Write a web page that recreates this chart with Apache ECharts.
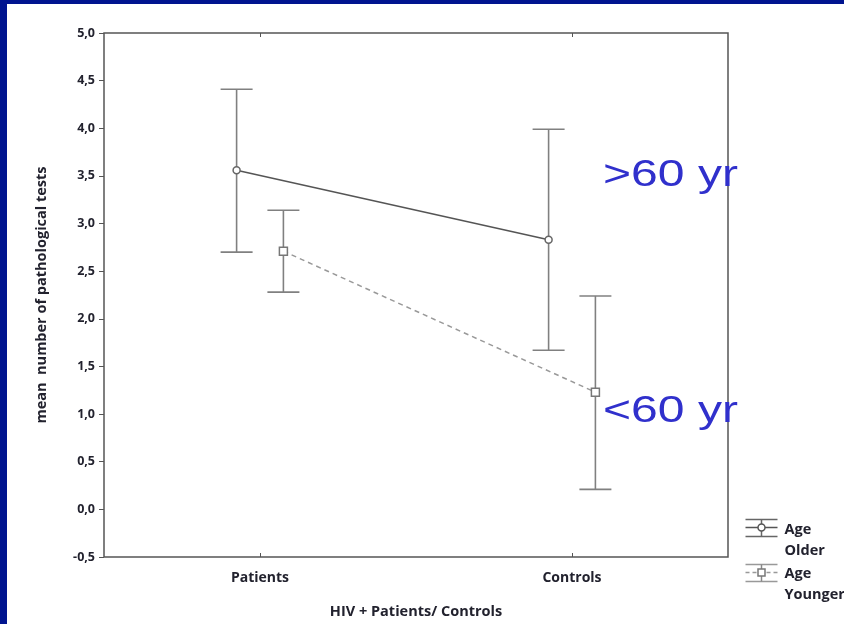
<!DOCTYPE html>
<html>
<head>
<meta charset="utf-8">
<script src="https://cdn.jsdelivr.net/npm/echarts@6/dist/echarts.min.js"></script>
<style>
  html, body { margin: 0; padding: 0; background: #fff; }
  #chart { width: 844px; height: 624px; }
</style>
</head>
<body>
<div id="chart"></div>
<script>
// groups on the x axis
const categories = ['Patients', 'Controls']
// mean and error bar ends, one entry per category
const olderMean = [3.56, 2.83]
const olderLow = [2.70, 1.67]
const olderHigh = [4.41, 3.99]
const youngerMean = [2.71, 1.23]
const youngerLow = [2.28, 0.21]
const youngerHigh = [3.14, 2.24]
const yTicks = { min: -0.5, max: 5, step: 0.5 }

// dodge the two groups around each category centre (value axis 0..2)
const dodge = 0.075
const catX = i => i + 0.5

function pts (mean, shift) {
  return mean.map((v, i) => [catX(i) + shift, v])
}
function bars (low, high, shift) {
  return low.map((v, i) => [catX(i) + shift, v, high[i]])
}

function errorBar (params, api) {
  const x = api.value(0)
  const lo = api.coord([x, api.value(1)])
  const hi = api.coord([x, api.value(2)])
  const w = 16
  const st = { stroke: '#808080', lineWidth: 1.6 }
  return {
    type: 'group',
    children: [
      { type: 'line', shape: { x1: lo[0], y1: lo[1], x2: hi[0], y2: hi[1] }, style: st },
      { type: 'line', shape: { x1: lo[0] - w, y1: lo[1], x2: lo[0] + w, y2: lo[1] }, style: st },
      { type: 'line', shape: { x1: hi[0] - w, y1: hi[1], x2: hi[0] + w, y2: hi[1] }, style: st }
    ]
  }
}

const lblFont = { fontFamily: 'Open Sans', fontWeight: 'bold', color: '#22222e' }
const blue = '#00148f'
const tickStyle = { show: true, inside: true, alignWithLabel: true, length: 4, lineStyle: { color: '#555' } }

const chart = echarts.init(document.getElementById('chart'))
chart.setOption({
  backgroundColor: '#fff',
  animation: false,
  grid: {
    left: 104, right: 116, top: 33, bottom: 64,
    show: true, borderColor: '#555', borderWidth: 1.5
  },
  xAxis: [
    {
      type: 'category',
      data: categories,
      position: 'bottom',
      axisLine: { show: false, onZero: false },
      axisTick: tickStyle,
      axisLabel: { ...lblFont, fontSize: 14, margin: 14 },
      name: 'HIV + Patients/ Controls',
      nameLocation: 'middle',
      nameGap: 47,
      nameTextStyle: { ...lblFont, fontSize: 14.5 }
    },
    {
      type: 'category',
      data: categories,
      position: 'top',
      axisLine: { show: false, onZero: false },
      axisTick: tickStyle,
      axisLabel: { show: false }
    },
    { type: 'value', min: 0, max: 2, show: false }
  ],
  yAxis: {
    type: 'value',
    min: yTicks.min,
    max: yTicks.max,
    interval: yTicks.step,
    axisLine: { show: false },
    splitLine: { show: false },
    axisTick: { show: true, length: 5, lineStyle: { color: '#555' } },
    axisLabel: {
      ...lblFont, fontSize: 12.5, margin: 9,
      formatter: v => v.toFixed(1).replace('.', ',')
    },
    name: 'mean  number of pathological tests',
    nameLocation: 'middle',
    nameGap: 55,
    nameTextStyle: { ...lblFont, fontSize: 14.5 }
  },
  series: [
    {
      type: 'custom', xAxisIndex: 2, renderItem: errorBar, z: 2,
      data: bars(olderLow, olderHigh, -dodge)
    },
    {
      type: 'custom', xAxisIndex: 2, renderItem: errorBar, z: 2,
      data: bars(youngerLow, youngerHigh, dodge)
    },
    {
      name: 'Age Older', type: 'line', xAxisIndex: 2, z: 3,
      data: pts(olderMean, -dodge),
      symbol: 'circle', symbolSize: 7,
      lineStyle: { color: '#555', width: 1.5 },
      itemStyle: { color: '#fff', borderColor: '#666', borderWidth: 1.5 }
    },
    {
      name: 'Age Younger', type: 'line', xAxisIndex: 2, z: 3,
      data: pts(youngerMean, dodge),
      symbol: 'rect', symbolSize: 8,
      lineStyle: { color: '#999', width: 1.5, type: [5, 4] },
      itemStyle: { color: '#fff', borderColor: '#777', borderWidth: 1.5 }
    }
  ],
  graphic: [
    // slide frame
    { type: 'rect', left: 0, top: 0, shape: { width: 844, height: 4 }, style: { fill: blue }, z: 10 },
    { type: 'rect', left: 0, top: 0, shape: { width: 7, height: 624 }, style: { fill: blue }, z: 10 },
    // annotations (stretched like the slide)
    { type: 'text', x: 603, y: 157, scaleX: 1.3, z: 1,
      style: { text: '>60 yr', fill: '#3030cc', font: '37px "Liberation Sans", Arial, sans-serif' } },
    { type: 'text', x: 603, y: 393, scaleX: 1.3, z: 1,
      style: { text: '<60 yr', fill: '#3030cc', font: '37px "Liberation Sans", Arial, sans-serif' } },
    // legend
    {
      type: 'group', left: 743, top: 517,
      children: [
        { type: 'line', shape: { x1: 0, y1: 0, x2: 32, y2: 0 }, style: { stroke: '#666', lineWidth: 1.5 } },
        { type: 'line', shape: { x1: 0, y1: 8, x2: 32, y2: 8 }, style: { stroke: '#555', lineWidth: 1.5 } },
        { type: 'line', shape: { x1: 0, y1: 17, x2: 32, y2: 17 }, style: { stroke: '#666', lineWidth: 1.5 } },
        { type: 'line', shape: { x1: 16, y1: 0, x2: 16, y2: 17 }, style: { stroke: '#666', lineWidth: 1.5 } },
        { type: 'circle', shape: { cx: 16, cy: 8, r: 3.5 }, style: { fill: '#fff', stroke: '#555', lineWidth: 1.5 } },
        { type: 'text', x: 39, y: 0, style: { text: 'Age\nOlder', fill: '#22222e', lineHeight: 21, font: 'bold 14.5px "Open Sans", sans-serif' } },
        { type: 'line', shape: { x1: 0, y1: 45, x2: 32, y2: 45 }, style: { stroke: '#999', lineWidth: 1.5 } },
        { type: 'line', shape: { x1: 0, y1: 53, x2: 32, y2: 53 }, style: { stroke: '#999', lineWidth: 1.5, lineDash: [4, 3] } },
        { type: 'line', shape: { x1: 0, y1: 62, x2: 32, y2: 62 }, style: { stroke: '#999', lineWidth: 1.5 } },
        { type: 'line', shape: { x1: 16, y1: 45, x2: 16, y2: 62 }, style: { stroke: '#888', lineWidth: 1.5 } },
        { type: 'rect', shape: { x: 12.5, y: 49.5, width: 7, height: 7 }, style: { fill: '#fff', stroke: '#777', lineWidth: 1.5 } },
        { type: 'text', x: 39, y: 44, style: { text: 'Age\nYounger', fill: '#22222e', lineHeight: 21, font: 'bold 14.5px "Open Sans", sans-serif' } }
      ]
    }
  ]
})
</script>
</body>
</html>
